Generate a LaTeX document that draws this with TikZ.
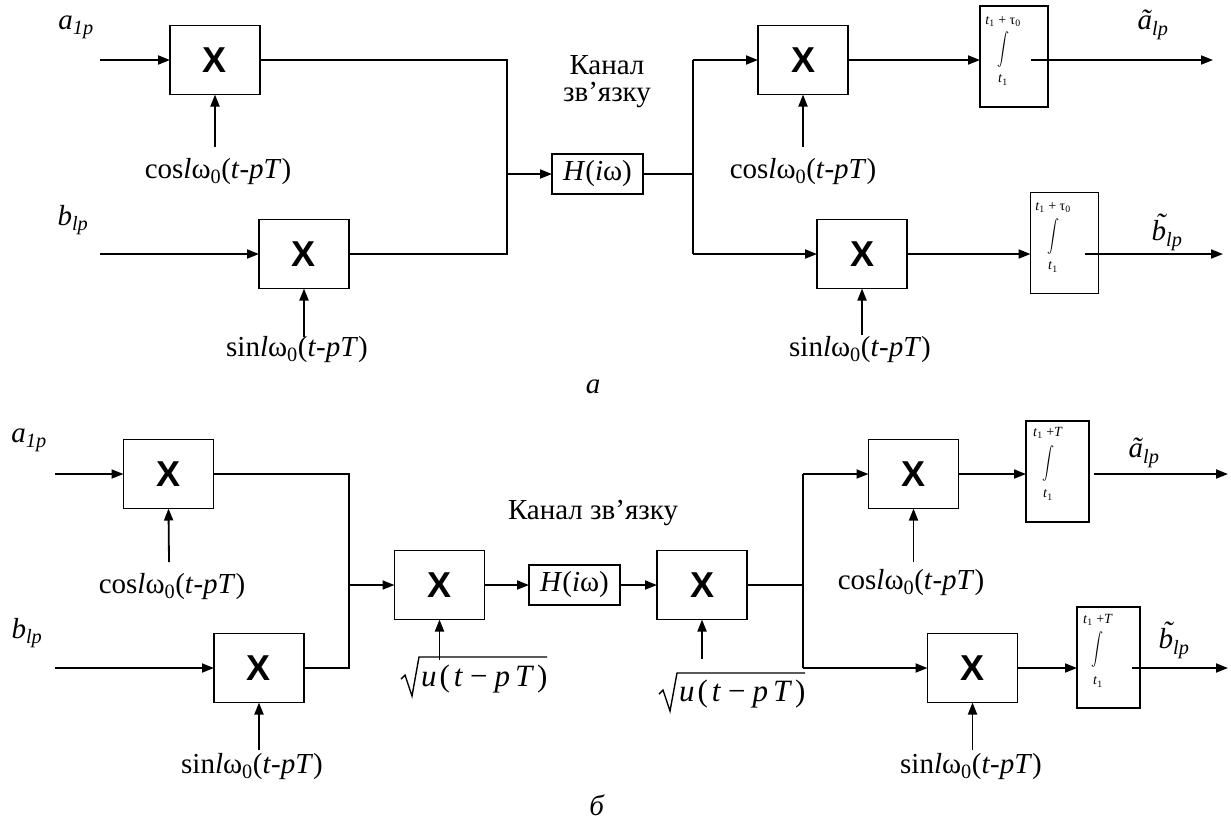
\documentclass[tikz,border=0pt]{standalone}
\usepackage{graphicx}
\usepackage{fontspec}
\setmainfont{Liberation Serif}
\newfontfamily\xfont{Liberation Sans}
\usetikzlibrary{arrows.meta}
\newcommand{\intsgn}{\resizebox*{12pt}{36pt}{$\displaystyle\int$}}
\newcommand{\coslab}{cos\textit{l}ω\textsubscript{0}(\textit{t}-\textit{pT})}
\newcommand{\sinlab}{sin\textit{l}ω\textsubscript{0}(\textit{t}-\textit{pT})}
\newcommand{\ulab}{\textit{u}\hspace{3pt}(\hspace{4pt}\textit{t}\hspace{7pt}−\hspace{7pt}\textit{p}\hspace{5pt}\textit{T}\hspace{3pt})}
\newcommand{\btil}{\textit{\makebox[0pt][l]{\hspace{0.14em}\raisebox{0.25em}{˜}}b}}
\begin{document}
\begin{tikzpicture}[x=1pt,y=-1pt,
  every node/.style={inner sep=0pt, outer sep=0pt},
  mul/.style={draw, line width=1.6pt, minimum width=90pt, minimum height=69pt, font=\xfont\bfseries\fontsize{36}{36}\selectfont},
  hbox/.style={draw, line width=1.6pt, minimum width=91pt, minimum height=40pt, font=\fontsize{29}{29}\selectfont},
  intbox/.style={draw, line width=1.6pt, minimum width=68pt, minimum height=101pt},
  intboxb/.style={draw, line width=1.6pt, minimum width=63pt, minimum height=101pt},
  lbl/.style={font=\fontsize{29}{29}\selectfont},
  ulbl/.style={font=\fontsize{31}{31}\selectfont},
  lim/.style={font=\fontsize{14}{14}\selectfont},
  conn/.style={line width=1.6pt},
  arr/.style={line width=1.8pt, -{Triangle[length=12pt,width=9pt]}},
  rad/.style={line width=1.4pt, line join=miter},
]
\useasboundingbox (0,0) rectangle (1231,820);

% ================= (a) =================
\node[lbl] (ta1) at (76,27) {\textit{a}\textsubscript{\textit{1p}}};
\node[lbl] (tb1) at (73,220) {\textit{b}\textsubscript{\textit{lp}}};
\node[mul] (m1) at (215,60) {X};
\node[mul] (m2) at (304,254) {X};
\node[mul] (m3) at (803,60) {X};
\node[mul] (m4) at (862,254) {X};
\node[hbox] (h1) at (597.5,174) {\textit{H}(\textit{i}ω)};
\node[lbl] (k1) at (607,65) {Канал};
\node[lbl] (k2) at (607,95) {зв’язку};

\node[intbox] (i1) at (1014,56.5) {};
\node[lim] (i1u) at (1003,22) {\textit{t}\textsubscript{1} + τ\textsubscript{0}};
\node (i1s) at (1003,49) {\intsgn};
\node[lim] (i1l) at (1003,80) {\textit{t}\textsubscript{1}};
\node[intbox] (i2) at (1064.5,243) {};
\node[lim] (i2u) at (1053,208) {\textit{t}\textsubscript{1} + τ\textsubscript{0}};
\node (i2s) at (1053,236) {\intsgn};
\node[lim] (i2l) at (1053,267) {\textit{t}\textsubscript{1}};

\node[lbl] (c1) at (218,172) {\coslab};
\node[lbl] (s1) at (297,350) {\sinlab};
\node[lbl] (c2) at (803,172) {\coslab};
\node[lbl] (s2) at (860,350) {\sinlab};
\node[lbl] (oa1) at (1153,25) {\textit{ã}\textsubscript{\textit{lp}}};
\node[lbl] (ob1) at (1167,232) {\btil\textsubscript{\textit{lp}}};
\node[lbl] (capa) at (593,387) {\textit{а}};

\coordinate (ina) at (100,60);
\coordinate (inb) at (100,254);
\draw[arr] (ina) -- (m1.west);
\draw[arr] (inb) -- (m2.west);
\coordinate (j1t) at (507,60);
\coordinate (j1b) at (507,254);
\coordinate (j1m) at (507,174);
\draw[conn] (m1.east) -- (j1t) -- (j1b) -- (m2.east);
\draw[arr] (j1m) -- (h1.west);
\coordinate (j2t) at (693,60);
\coordinate (j2b) at (693,254);
\coordinate (j2m) at (693,174);
\draw[conn] (h1.east) -- (j2m);
\draw[conn] (j2t) -- (j2b);
\draw[arr] (j2t) -- (m3.west);
\draw[arr] (j2b) -- (m4.west);
\draw[arr] (m3.east) -- (m3.east -| i1.west);
\draw[arr] (m4.east) -- (m4.east -| i2.west);
\coordinate (o1s) at (1031,60);
\coordinate (o1e) at (1213,60);
\coordinate (o2s) at (1085,254);
\coordinate (o2e) at (1223,254);
\draw[arr] (o1s) -- (o1e);
\draw[arr] (o2s) -- (o2e);
\coordinate (u1) at (215,147);
\coordinate (u2) at (304,337);
\coordinate (u3) at (803,147);
\coordinate (u4) at (862,335);
\draw[arr] (u1) -- (m1.south);
\draw[arr] (u2) -- (m2.south);
\draw[arr] (u3) -- (m3.south);
\draw[arr] (u4) -- (m4.south);

% ================= (б) =================
\node[lbl] (ta2) at (29,440) {\textit{a}\textsubscript{\textit{1p}}};
\node[lbl] (tb2) at (27,633) {\textit{b}\textsubscript{\textit{lp}}};
\node[mul] (b1) at (168.5,474) {X};
\node[mul] (b2) at (259,668) {X};
\node[mul] (bm1) at (439.5,585) {X};
\node[hbox] (bh) at (574.5,585) {\textit{H}(\textit{i}ω)};
\node[mul] (bm2) at (702,585) {X};
\node[mul] (bm3) at (913.5,474) {X};
\node[mul] (bm4) at (972.5,668) {X};
\node[lbl] (k3) at (593,513) {Канал зв’язку};

\node[intboxb] (i3) at (1057.5,471.5) {};
\node[lim] (i3u) at (1048,433) {\textit{t}\textsubscript{1} +\textit{T}};
\node (i3s) at (1048,463) {\intsgn};
\node[lim] (i3l) at (1048,495) {\textit{t}\textsubscript{1}};
\node[intboxb] (i4) at (1108.5,657.5) {};
\node[lim] (i4u) at (1098,620) {\textit{t}\textsubscript{1} +\textit{T}};
\node (i4s) at (1097,649) {\intsgn};
\node[lim] (i4l) at (1098,682) {\textit{t}\textsubscript{1}};

\node[lbl] (c3) at (172,587) {\coslab};
\node[lbl] (s3) at (252,767) {\sinlab};
\node[lbl] (c4) at (911,583) {\coslab};
\node[lbl] (s4) at (971,767) {\sinlab};
\node[lbl] (oa2) at (1144,453) {\textit{ã}\textsubscript{\textit{lp}}};
\node[lbl] (ob2) at (1174,640) {\btil\textsubscript{\textit{lp}}};
\node[lbl] (capb) at (597,805) {\textit{б}};

% sqrt labels
\node[ulbl, anchor=west] (r1) at (421,679) {\ulab};
\node[ulbl, anchor=west] (r2) at (679,694) {\ulab};
\coordinate (r1a) at (401,679);
\coordinate (r1b) at (405,675);
\coordinate (r1c) at (412,696);
\coordinate (r1d) at (419,657);
\coordinate (r1e) at (547,657);
\draw[rad] (r1a) -- (r1b) -- (r1c) -- (r1d) -- (r1e);
\coordinate (r2a) at (659,694);
\coordinate (r2b) at (663,690);
\coordinate (r2c) at (670,711);
\coordinate (r2d) at (677,673);
\coordinate (r2e) at (805,673);
\draw[rad] (r2a) -- (r2b) -- (r2c) -- (r2d) -- (r2e);

\coordinate (bina) at (55,474);
\coordinate (binb) at (55,668);
\draw[arr] (bina) -- (b1.west);
\draw[arr] (binb) -- (b2.west);
\coordinate (j3t) at (349,474);
\coordinate (j3b) at (349,668);
\coordinate (j3m) at (349,585);
\draw[conn] (b1.east) -- (j3t) -- (j3b) -- (b2.east);
\draw[arr] (j3m) -- (bm1.west);
\draw[arr] (bm1.east) -- (bh.west);
\draw[arr] (bh.east) -- (bm2.west);
\coordinate (j4t) at (803,474);
\coordinate (j4b) at (803,668);
\coordinate (j4m) at (803,585);
\draw[conn] (bm2.east) -- (j4m);
\draw[conn] (j4t) -- (j4b);
\draw[arr] (j4t) -- (bm3.west);
\draw[arr] (j4b) -- (bm4.west);
\draw[arr] (bm3.east) -- (bm3.east -| i3.west);
\draw[arr] (bm4.east) -- (bm4.east -| i4.west);
\coordinate (o3s) at (1094,474);
\coordinate (o3e) at (1228,474);
\coordinate (o4s) at (1132,668);
\coordinate (o4e) at (1228,668);
\draw[arr] (o3s) -- (o3e);
\draw[arr] (o4s) -- (o4e);
\coordinate (u5) at (169,562);
\coordinate (u6) at (259,750);
\coordinate (u7) at (439.5,660);
\coordinate (u8) at (702,659);
\coordinate (u9) at (913.5,562);
\coordinate (u10) at (972.5,750);
\draw[arr] (u5) -- (b1.south);
\draw[arr] (u6) -- (b2.south);
\draw[arr] (u7) -- (bm1.south);
\draw[arr] (u8) -- (bm2.south);
\draw[arr] (u9) -- (bm3.south);
\draw[arr] (u10) -- (bm4.south);
\end{tikzpicture}
\end{document}
